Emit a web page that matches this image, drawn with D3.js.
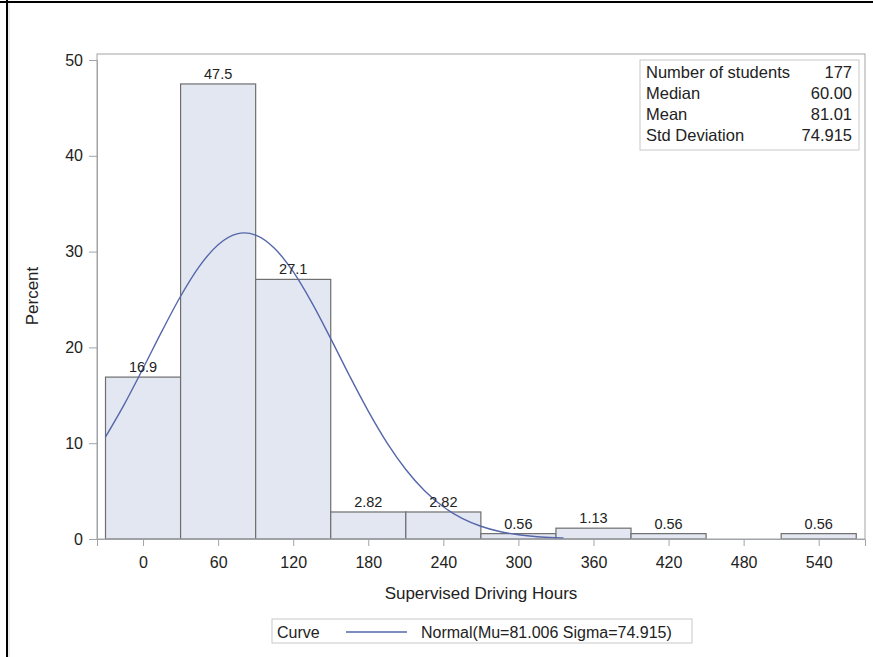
<!DOCTYPE html>
<html><head><meta charset="utf-8">
<script src="https://cdn.jsdelivr.net/npm/d3@7"></script>
<style>
html,body{margin:0;padding:0;background:#fff;}
svg text{font-family:"Liberation Sans",Arial,sans-serif;fill:#222;}
</style></head>
<body>
<svg id="chart" width="873" height="657"></svg>
<script>
// ---- data ----
const binMidpoints = [0, 60, 120, 180, 240, 300, 360, 420, 480, 540];
const binPercents  = [16.9, 47.5, 27.1, 2.82, 2.82, 0.56, 1.13, 0.56, 0, 0.56];
const binLabels    = ["16.9", "47.5", "27.1", "2.82", "2.82", "0.56", "1.13", "0.56", "", "0.56"];
const binWidth = 60;
const xTicks = [0, 60, 120, 180, 240, 300, 360, 420, 480, 540];
const yTicks = [0, 10, 20, 30, 40, 50];
const curveX = [-30, -15, 0, 15, 30, 45, 60, 75, 81, 90, 105, 120, 135, 150, 165, 180, 195, 210, 225, 240, 255, 270, 285, 300, 315, 330, 336];
const curveY = [10.66, 14.06, 17.81, 21.67, 25.34, 28.46, 30.72, 31.85, 31.95, 31.72, 30.35, 27.90, 24.64, 20.91, 17.04, 13.35, 10.04, 7.26, 5.04, 3.36, 2.15, 1.33, 0.78, 0.45, 0.24, 0.13, 0.10];
const statNames  = ["Number of students", "Median", "Mean", "Std Deviation"];
const statValues = ["177", "60.00", "81.01", "74.915"];
const legendTitle = "Curve";
const legendLabel = "Normal(Mu=81.006 Sigma=74.915)";

// ---- layout ----
const svg = d3.select("#chart");
const L = 97, R = 865, T = 54, B = 539;
const x = d3.scaleLinear().domain([-36.8, 577]).range([L, R]);
const y = d3.scaleLinear().domain([0, 50]).range([B, 60]);

// outer frame (top & left)
svg.append("line").attr("x1",0).attr("x2",873).attr("y1",2).attr("y2",2).attr("stroke","#000").attr("stroke-width",2);
svg.append("line").attr("x1",7).attr("x2",7).attr("y1",0).attr("y2",657).attr("stroke","#000").attr("stroke-width",2);
svg.append("line").attr("x1",9).attr("x2",9).attr("y1",3).attr("y2",657).attr("stroke","#ddd").attr("stroke-width",1);

// bars
svg.append("g").selectAll("rect").data(binMidpoints).join("rect")
  .attr("x", (d) => x(d - binWidth/2))
  .attr("width", (d) => x(d + binWidth/2) - x(d - binWidth/2))
  .attr("y", (d,i) => y(binPercents[i]))
  .attr("height", (d,i) => B - y(binPercents[i]))
  .attr("fill", "#e3e7f1")
  .attr("stroke", "#6e6e6e")
  .attr("stroke-width", 1.2);

// curve
const pts = curveX.map((v,i)=>[v, curveY[i]]);
svg.append("path").datum(pts)
  .attr("d", d3.line().x(d=>x(d[0])).y(d=>y(d[1])).curve(d3.curveMonotoneX))
  .attr("fill","none").attr("stroke","#5566aa").attr("stroke-width",1.4);

// bar labels
svg.append("g").selectAll("text").data(binMidpoints).join("text")
  .attr("x", d => x(d))
  .attr("y", (d,i) => y(binPercents[i]) - 5)
  .attr("text-anchor","middle")
  .attr("font-size", 14.5)
  .text((d,i) => binLabels[i]);

// plot frame
svg.append("rect").attr("x",L).attr("y",T).attr("width",R-L).attr("height",B-T)
  .attr("fill","none").attr("stroke","#a0a4a8").attr("stroke-width",1);

// axes
const xAxis = svg.append("g").attr("transform",`translate(0,${B})`)
  .call(d3.axisBottom(x).tickValues(xTicks).tickSize(7).tickPadding(11).tickFormat(d3.format("d")));
const yAxis = svg.append("g").attr("transform",`translate(${L},0)`)
  .call(d3.axisLeft(y).tickValues(yTicks).tickSize(8).tickPadding(6).tickFormat(d3.format("d")));
[xAxis, yAxis].forEach(a => {
  a.attr("font-size",16).attr("font-family","Liberation Sans,Arial,sans-serif");
  a.select(".domain").attr("stroke","#a0a4a8");
  a.selectAll(".tick line").attr("stroke","#a0a4a8");
  a.selectAll(".tick text").attr("font-size",16).attr("fill","#222");
});

// axis titles
svg.append("text").attr("x", (L+R)/2).attr("y", 599).attr("text-anchor","middle")
  .attr("font-size",17).text("Supervised Driving Hours");
svg.append("text").attr("transform","translate(38,296) rotate(-90)").attr("text-anchor","middle")
  .attr("font-size",17).text("Percent");

// inset stats table
const tb = svg.append("g");
tb.append("rect").attr("x",640).attr("y",60).attr("width",219).attr("height",90)
  .attr("fill","#fff").attr("stroke","#c8c8c8");
statNames.forEach((n,i) => {
  tb.append("text").attr("x",646).attr("y",78 + i*21).attr("font-size",16.5).text(n);
  tb.append("text").attr("x",852).attr("y",78 + i*21).attr("font-size",16.5).attr("text-anchor","end").text(statValues[i]);
});

// legend
const lg = svg.append("g");
lg.append("rect").attr("x",272).attr("y",619).attr("width",420).attr("height",24)
  .attr("fill","#fff").attr("stroke","#c8c8c8");
lg.append("text").attr("x",277).attr("y",638).attr("font-size",16).text(legendTitle);
lg.append("line").attr("x1",346).attr("x2",407).attr("y1",632).attr("y2",632)
  .attr("stroke","#5566aa").attr("stroke-width",1.4);
lg.append("text").attr("x",421).attr("y",638).attr("font-size",16).text(legendLabel);
</script>
</body></html>
